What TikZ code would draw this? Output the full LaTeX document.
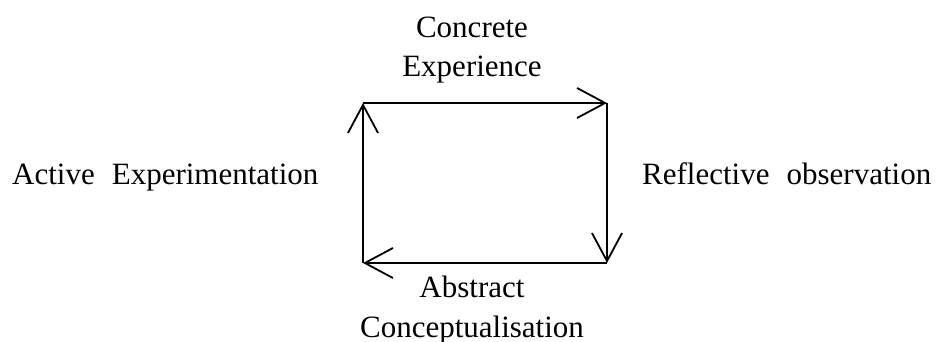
\documentclass[tikz,border=0pt]{standalone}
\usepackage{fontspec}
\setmainfont{Liberation Serif}
\usetikzlibrary{arrows.meta}
\begin{document}
\begin{tikzpicture}[x=1pt,y=-1pt,
  lbl/.style={inner sep=0pt,font=\fontsize{31}{39.5}\selectfont,align=center},
  edge/.style={line width=2.2pt,-{Straight Barb[length=28pt,width=30pt,line width=1.8pt]}}]
\useasboundingbox (0,0) rectangle (940,342);
\coordinate (tl) at (363,103);
\coordinate (tr) at (607,103);
\coordinate (br) at (607,263);
\coordinate (bl) at (363,263);
\draw[edge] (tl) -- (tr);
\draw[edge] (tr) -- (br);
\draw[edge] (br) -- (bl);
\draw[edge] (bl) -- (tl);
\node[lbl,anchor=base] (ce) at (472,77) {Concrete\\Experience};
\node[lbl,anchor=base] (ac) at (472,337) {Abstract\\Conceptualisation};
\node[lbl,anchor=base west] (ae) at (12,185) {Active\hspace{17pt}Experimentation};
\node[lbl,anchor=base west] (ro) at (642,185) {Reflective\hspace{17pt}observation};
\end{tikzpicture}
\end{document}
